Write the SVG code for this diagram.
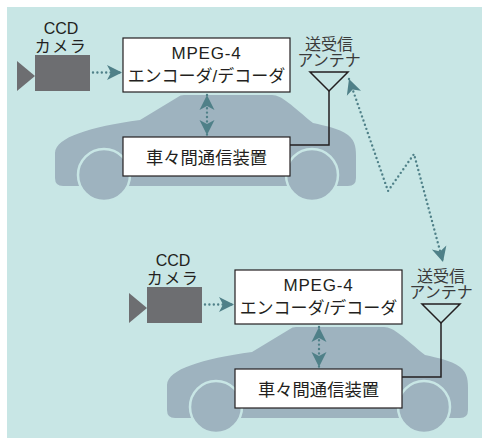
<svg xmlns="http://www.w3.org/2000/svg" width="482" height="438" viewBox="0 0 482 438">
  <style>
    .page { fill: #ffffff; }
    .panel { fill: #C8E6E5; }
    .body { fill: #9EB3BF; }
    .wheel { fill: #9EB3BF; stroke: #C8E6E5; stroke-width: 2.5; }
    .cam { fill: #6D6E71; }
    .box { fill: #ffffff; stroke: #231F20; stroke-width: 1.2; }
    .label { font-family: "Liberation Sans", "Noto Sans CJK JP", sans-serif; fill: #231F20; text-anchor: middle; }
    .big { font-size: 17px; }
    .small { font-size: 16px; fill: #3a3a3a; }
    .ant { fill: none; stroke: #231F20; stroke-width: 1.5; stroke-linejoin: miter; }
    .wire { fill: none; stroke: #231F20; stroke-width: 1.5; }
    .dots { fill: none; stroke: #4F8088; stroke-width: 2.4; stroke-linecap: round; stroke-dasharray: 0 4.4; }
  </style>
  <defs>
    <marker id="head" markerUnits="userSpaceOnUse" markerWidth="18" markerHeight="18" viewBox="-16 -9 18 18" refX="0" refY="0" orient="auto-start-reverse">
      <path d="M0,0 L-15,-7.5 L-11,0 L-15,7.5 Z" fill="#4F8088"/>
    </marker>
    <path id="car-shape" d="M63,186 Q55,186 55,178 L55,153 C56,137 90,127 140,120 L178,97 Q180,95 184,95 L272,95 C282,95 292,106 313,123 C326,126 338,128 348,135 C356,141 356,150 356,158 L356,178 Q356,186 348,186 Z"/>
  </defs>

  <rect class="page" x="0" y="0" width="482" height="438"/>
  <rect class="panel" x="7" y="7" width="475" height="431"/>

  <!-- upper vehicle -->
  <g id="vehicle-a">
    <g id="car-a">
      <use href="#car-shape" class="body"/>
      <circle class="wheel" cx="104" cy="175" r="26"/>
      <circle class="wheel" cx="312" cy="175" r="26"/>
    </g>
    <g id="camera-a">
      <rect class="cam" x="35" y="55" width="55" height="36"/>
      <polygon class="cam" points="17,61 35,76 17,91"/>
      <text class="label" x="61" y="34" font-size="16">CCD</text>
      <text class="label" x="61" y="52" font-size="16" letter-spacing="1.5">カメラ</text>
    </g>
    <g id="codec-a">
      <rect class="box" x="123" y="38" width="167" height="54"/>
      <text class="label big" x="206.5" y="58.5" letter-spacing="0.8">MPEG-4</text>
      <text class="label big" x="206.5" y="82">エンコーダ/デコーダ</text>
    </g>
    <g id="comm-a">
      <rect class="box" x="123" y="137" width="167" height="39"/>
      <text class="label" x="206.5" y="164" font-size="17.3">車々間通信装置</text>
    </g>
    <g id="antenna-a">
      <polygon class="ant" points="310,72 348,72 329,91"/>
      <text class="label small" x="329" y="50">送受信</text>
      <text class="label small" x="329" y="66">アンテナ</text>
    </g>
  </g>

  <!-- lower vehicle: same layout shifted -->
  <g id="vehicle-b" transform="translate(112,232)">
    <g id="car-b">
      <use href="#car-shape" class="body"/>
      <circle class="wheel" cx="104" cy="175" r="26"/>
      <circle class="wheel" cx="312" cy="175" r="26"/>
    </g>
    <g id="camera-b">
      <rect class="cam" x="35" y="55" width="55" height="36"/>
      <polygon class="cam" points="17,61 35,76 17,91"/>
      <text class="label" x="61" y="34" font-size="16">CCD</text>
      <text class="label" x="61" y="52" font-size="16" letter-spacing="1.5">カメラ</text>
    </g>
    <g id="codec-b">
      <rect class="box" x="123" y="38" width="167" height="54"/>
      <text class="label big" x="206.5" y="58.5" letter-spacing="0.8">MPEG-4</text>
      <text class="label big" x="206.5" y="82">エンコーダ/デコーダ</text>
    </g>
    <g id="comm-b">
      <rect class="box" x="123" y="137" width="167" height="39"/>
      <text class="label" x="206.5" y="164" font-size="17.3">車々間通信装置</text>
    </g>
    <g id="antenna-b">
      <polygon class="ant" points="310,72 348,72 329,91"/>
      <text class="label small" x="329" y="50">送受信</text>
      <text class="label small" x="329" y="66">アンテナ</text>
    </g>
  </g>

  <g id="connectors">
    <!-- camera to codec -->
    <path class="dots" d="M93,72.5 L122,72.5" marker-end="url(#head)"/>
    <path class="dots" d="M205,304.5 L234,304.5" marker-end="url(#head)"/>
    <!-- codec to comm unit, both ways -->
    <path class="dots" d="M207,95 L207,135" marker-start="url(#head)" marker-end="url(#head)"/>
    <path class="dots" d="M319,327 L319,367" marker-start="url(#head)" marker-end="url(#head)"/>
    <!-- comm unit to antenna feed -->
    <path class="wire" d="M290,145 L329,145 L329,91"/>
    <path class="wire" d="M402,377 L441,377 L441,323"/>
    <!-- radio link between antennas -->
    <path class="dots" d="M349,79 L388,191 L414,154 L443,262" marker-start="url(#head)" marker-end="url(#head)"/>
  </g>
</svg>
